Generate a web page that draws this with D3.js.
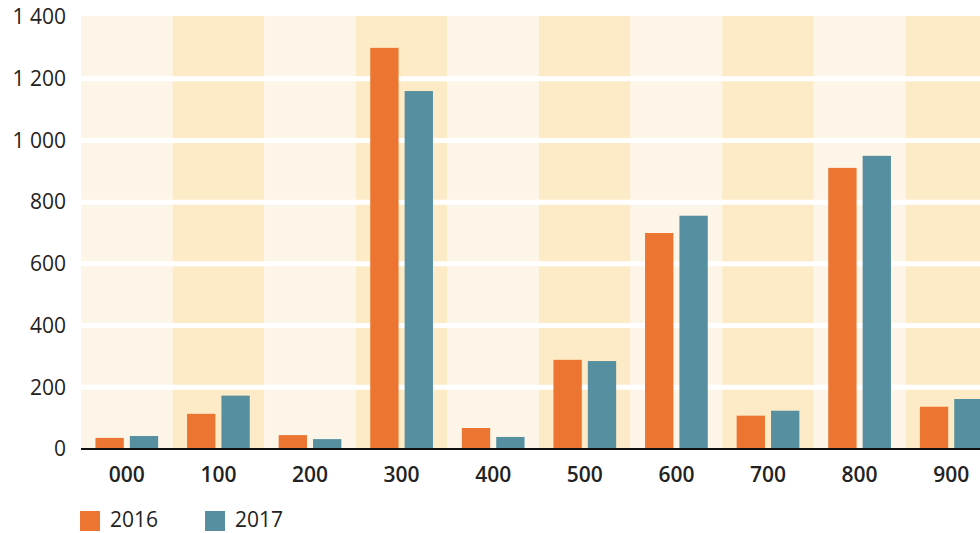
<!DOCTYPE html>
<html><head><meta charset="utf-8">
<script src="https://cdn.jsdelivr.net/npm/d3@7"></script>
<style>body{margin:0;background:#fff}svg{display:block}text{font-family:"Open Sans",sans-serif}</style>
</head><body>
<svg id="c" width="980" height="533"></svg>
<script>
const categories = ["000","100","200","300","400","500","600","700","800","900"];
const series = ["2016","2017"];
const values2016 = [36,114,45,1300,68,289,700,108,911,137];
const values2017 = [42,173,32,1160,39,285,756,124,950,162];
const yTicks = [0,200,400,600,800,1000,1200,1400];
const colors = ["#ec7532","#568fa0"];

(function(){
const svg = d3.select("#c");
const mLeft = 81, mRight = 997, mTop = 17, mBottom = 449;
const x = d3.scaleBand().domain(categories).range([mLeft,mRight]);
const x1 = d3.scaleBand().domain(series).range([0,x.step()]).paddingInner(0.176).paddingOuter(0.42);
const y = d3.scaleLinear().domain([0,1400]).range([mBottom,mTop]);
const fmt = v => d3.format(",")(v).replace(/,/g," ");

// bands
svg.append("g").selectAll("rect").data(categories).join("rect")
  .attr("x", d=>x(d)).attr("width", x.step())
  .attr("y", y(1400)-1).attr("height", mBottom-y(1400)+1)
  .attr("fill",(d,i)=> i%2 ? "#fcebc6" : "#fdf5e8");

// grid
svg.append("g").selectAll("line").data(yTicks.filter(t=>t>0 && t<1400)).join("line")
  .attr("x1",mLeft).attr("x2",mRight).attr("y1",d=>y(d)).attr("y2",d=>y(d))
  .attr("stroke","#fff").attr("stroke-width",5);

// bars
const data = categories.map((c,i)=>({c, vals:[values2016[i],values2017[i]]}));
const g = svg.append("g").selectAll("g").data(data).join("g").attr("transform",d=>`translate(${x(d.c)},0)`);
g.selectAll("rect").data(d=>d.vals.map((v,j)=>({s:series[j],v,j}))).join("rect")
  .attr("x",d=>x1(d.s)).attr("width",x1.bandwidth())
  .attr("y",d=>y(d.v)).attr("height",d=>mBottom-y(d.v))
  .attr("fill",d=>colors[d.j]);

// baseline
svg.append("line").attr("x1",mLeft).attr("x2",mRight).attr("y1",mBottom).attr("y2",mBottom)
  .attr("stroke","#111").attr("stroke-width",2);

// y axis
const ya = svg.append("g").attr("transform",`translate(66,0)`)
  .call(d3.axisLeft(y).tickValues(yTicks).tickFormat(fmt).tickSize(0).tickPadding(0));
ya.select(".domain").remove();
ya.selectAll("text").attr("font-size",21).attr("fill","#222").style("font-family","'Open Sans',sans-serif");

// x axis
const xa = svg.append("g").attr("transform",`translate(0,${mBottom})`)
  .call(d3.axisBottom(x).tickSize(0).tickPadding(18));
xa.select(".domain").remove();
xa.selectAll("text").attr("font-size",21).attr("font-weight",600).attr("fill","#222").style("font-family","'Open Sans',sans-serif");

// legend
const leg = svg.append("g").selectAll("g").data(series).join("g")
  .attr("transform",(d,i)=>`translate(${80+i*125},511)`);
leg.append("rect").attr("width",20).attr("height",20).attr("fill",(d,i)=>colors[i]);
leg.append("text").attr("x",30).attr("y",16).attr("font-size",21).attr("fill","#222").text(d=>d);
})();
</script>
</body></html>
